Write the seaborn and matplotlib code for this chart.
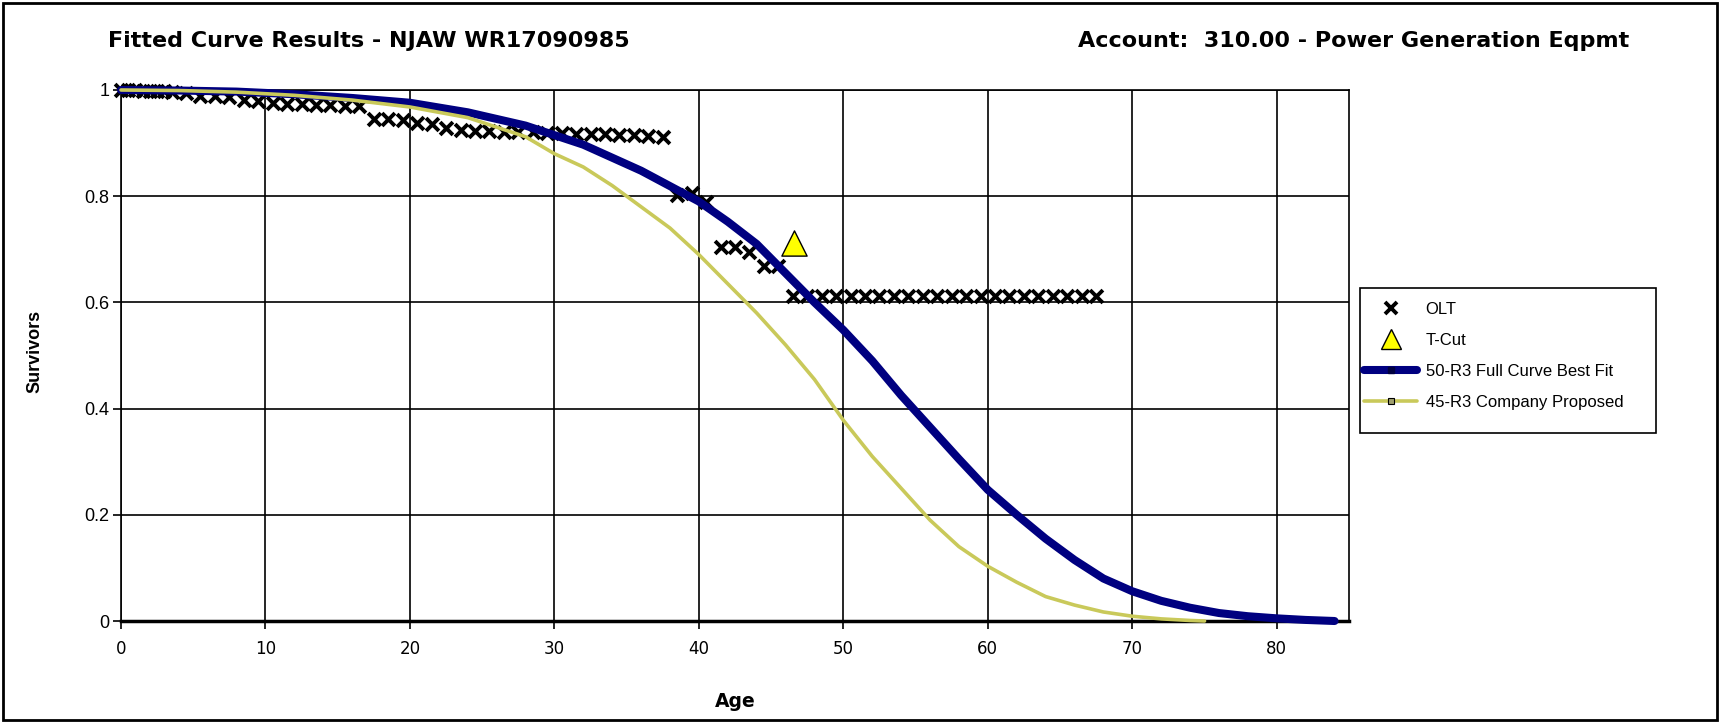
import seaborn as sns
import matplotlib.pyplot as plt
from matplotlib.lines import Line2D
from matplotlib.patches import Rectangle

# Observed life table points (age, fraction surviving)
olt_age = [0, 0.5, 1, 1.5, 2, 2.5, 3, 3.5, 4.5, 5.5, 6.5, 7.5, 8.5, 9.5,
           10.5, 11.5, 12.5, 13.5, 14.5, 15.5, 16.5, 17.5, 18.5, 19.5,
           20.5, 21.5, 22.5, 23.5, 24.5, 25.5, 26.5, 27.5, 28.5, 29.5,
           30.5, 31.5, 32.5, 33.5, 34.5, 35.5, 36.5, 37.5, 38.5, 39.5,
           40.5, 41.5, 42.5, 43.5, 44.5, 45.5, 46.5, 47.5, 48.5, 49.5,
           50.5, 51.5, 52.5, 53.5, 54.5, 55.5, 56.5, 57.5, 58.5, 59.5,
           60.5, 61.5, 62.5, 63.5, 64.5, 65.5, 66.5, 67.5]
olt_surv = [1.0, 1.0, 1.0, 0.999, 0.999, 0.999, 0.998, 0.996, 0.994, 0.989,
            0.988, 0.987, 0.982, 0.979, 0.975, 0.974, 0.973, 0.972, 0.971,
            0.970, 0.969, 0.946, 0.945, 0.944, 0.937, 0.936, 0.929, 0.924,
            0.923, 0.922, 0.921, 0.921, 0.920, 0.919, 0.919, 0.918, 0.918,
            0.917, 0.916, 0.915, 0.914, 0.911, 0.803, 0.806, 0.790, 0.705,
            0.704, 0.695, 0.668, 0.668, 0.612, 0.612, 0.612, 0.612, 0.612,
            0.612, 0.612, 0.612, 0.612, 0.612, 0.612, 0.612, 0.612, 0.612,
            0.612, 0.612, 0.612, 0.612, 0.612, 0.612, 0.612, 0.612]

# T-Cut point
tcut_age = [46.6]
tcut_surv = [0.712]

# 50-R3 full curve best fit
fit_age = [0, 4, 8, 12, 16, 20, 24, 28, 32, 36, 40, 42, 44, 46, 48, 50, 52,
           54, 56, 58, 60, 62, 64, 66, 68, 70, 72, 74, 76, 78, 80, 82, 84]
fit_surv = [1.0, 0.999, 0.997, 0.992, 0.985, 0.976, 0.958, 0.933, 0.897,
            0.848, 0.790, 0.752, 0.710, 0.655, 0.600, 0.548, 0.490, 0.425,
            0.365, 0.305, 0.247, 0.200, 0.155, 0.115, 0.080, 0.056, 0.038,
            0.025, 0.015, 0.009, 0.005, 0.002, 0.0]

# 45-R3 company proposed
comp_age = [0, 4, 8, 12, 16, 20, 24, 28, 30, 32, 34, 36, 38, 40, 42, 44, 46,
            48, 50, 52, 54, 56, 58, 60, 62, 64, 66, 68, 70, 72, 74, 75]
comp_surv = [1.0, 0.999, 0.996, 0.990, 0.981, 0.968, 0.948, 0.912, 0.880,
             0.855, 0.820, 0.780, 0.740, 0.690, 0.635, 0.580, 0.520, 0.455,
             0.378, 0.310, 0.250, 0.190, 0.140, 0.103, 0.073, 0.046, 0.030,
             0.017, 0.009, 0.004, 0.001, 0.0]

x_ticks = [0, 10, 20, 30, 40, 50, 60, 70, 80]
y_ticks = [0, 0.2, 0.4, 0.6, 0.8, 1.0]
y_labels = ['0', '0.2', '0.4', '0.6', '0.8', '1']

blue = '#000080'
yellow = '#c9c95a'

sns.set_style('white')
plt.rcParams['font.family'] = ['DejaVu Sans']
plt.rcParams['text.color'] = 'black'
plt.rcParams['axes.labelcolor'] = 'black'

W, H = 1720, 723
fig = plt.figure(figsize=(W / 100, H / 100), dpi=100)
ax = fig.add_axes([121 / W, 1 - 621 / H, 1228 / W, 531 / H])

sns.scatterplot(x=olt_age, y=olt_surv, ax=ax, marker='x', s=85, color='black',
                linewidth=2.8, clip_on=False, zorder=3, legend=False)
sns.lineplot(x=fit_age, y=fit_surv, ax=ax, color=blue, lw=5.8, zorder=4,
             clip_on=False)
sns.lineplot(x=comp_age, y=comp_surv, ax=ax, color=yellow, lw=2.6, zorder=5,
             clip_on=False)
sns.scatterplot(x=tcut_age, y=tcut_surv, ax=ax, marker='^', s=330,
                color='#ffff00', edgecolor='black', linewidth=1, zorder=6,
                legend=False)

ax.set_xlim(0, 85)
ax.set_ylim(0, 1)
ax.set_xticks(x_ticks)
ax.set_xticklabels([str(v) for v in x_ticks], fontsize=12)
ax.set_yticks(y_ticks)
ax.set_yticklabels(y_labels, fontsize=13, family='Liberation Sans')
ax.grid(True, color='black', lw=1.2)
ax.set_axisbelow(True)
for side in ['left', 'right', 'top']:
    ax.spines[side].set_color('black')
    ax.spines[side].set_linewidth(1.2)
ax.spines['bottom'].set_color('black')
ax.spines['bottom'].set_linewidth(2.5)
ax.tick_params(axis='x', length=6, width=1.2, pad=8, colors='black')
ax.tick_params(axis='y', length=6, width=1.2, pad=2.5, colors='black')
ax.tick_params(bottom=True, left=True)

ax.set_xlabel('Age', fontsize=13.5, fontweight='bold')
ax.xaxis.set_label_coords(0.5, -0.134)
ax.set_ylabel('Survivors', fontsize=13, fontweight='bold', family='Liberation Sans')
ax.yaxis.set_label_coords(-0.063, 0.507)

fig.text(108 / W, 1 - 41 / H, 'Fitted Curve Results - NJAW WR17090985',
         fontsize=16, fontweight='bold', va='center', ha='left')
fig.text(1629 / W, 1 - 41 / H, 'Account:  310.00 - Power Generation Eqpmt',
         fontsize=16, fontweight='bold', va='center', ha='right')

handles = [
    Line2D([], [], ls='none', marker='x', color='black', ms=9, mew=2.8),
    Line2D([], [], ls='none', marker='^', ms=14, mfc='#ffff00', mec='black', mew=1),
    Line2D([], [], color=blue, lw=5.8, marker='s', ms=5, mfc='#000040', mec='#000040'),
    Line2D([], [], color=yellow, lw=2.6, marker='s', ms=5, mfc='#a0a070', mec='black', mew=0.8),
]
labels = ['OLT', 'T-Cut', '50-R3 Full Curve Best Fit', '45-R3 Company Proposed']
fig.legend(handles, labels, loc='upper left',
           bbox_to_anchor=(1364 / W, 1 - 302 / H), borderaxespad=0,
           borderpad=0, frameon=False,
           prop={'family': 'Liberation Sans', 'size': 12},
           handlelength=3.2, handletextpad=0.5, labelspacing=0.95)

# legend frame and outer chart border
fig.patches.append(Rectangle((1360 / W, 1 - 433 / H), 296 / W, 145 / H,
                             transform=fig.transFigure, fill=False,
                             edgecolor='black', lw=1.2))
fig.patches.append(Rectangle((0.002, 0.004), 0.996, 0.992, transform=fig.transFigure,
                             fill=False, edgecolor='black', lw=2))

fig.savefig('out.png', dpi=100)
